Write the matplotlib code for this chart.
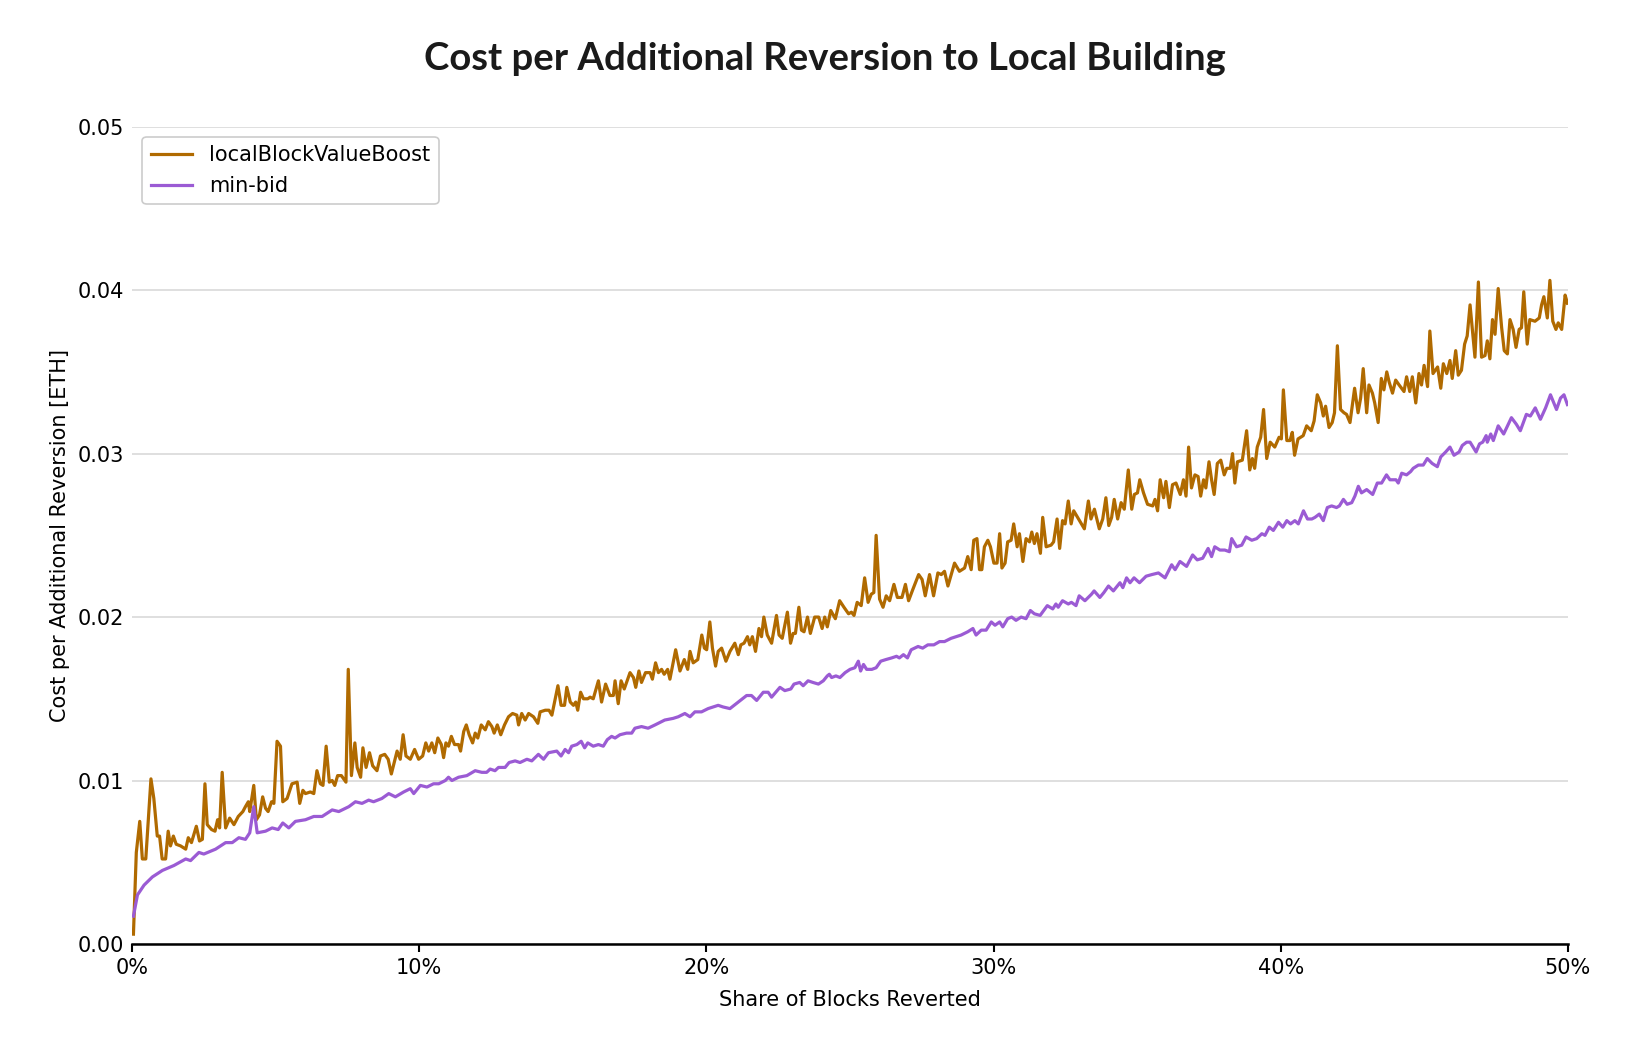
import numpy as np
import matplotlib
matplotlib.use("Agg")
import matplotlib.pyplot as plt
from matplotlib.ticker import FuncFormatter

# share of blocks reverted [%] and cost [milli-ETH]
boost_share = [
    0.05, 0.15, 0.27, 0.36, 0.48, 0.66, 0.76, 0.88, 0.96, 1.05, 1.17, 1.26, 1.34, 1.44, 1.54, 1.69,
    1.87, 1.96, 2.07, 2.24, 2.35, 2.45, 2.54, 2.62, 2.77, 2.89, 2.98, 3.05, 3.14, 3.26, 3.40, 3.55,
    3.70, 3.86, 3.95, 4.05, 4.10, 4.24, 4.33, 4.44, 4.55, 4.65, 4.74, 4.86, 4.94, 5.05, 5.17, 5.25,
    5.40, 5.57, 5.75, 5.84, 5.95, 6.04, 6.21, 6.33, 6.44, 6.56, 6.65, 6.76, 6.87, 6.97, 7.06, 7.16,
    7.29, 7.45, 7.53, 7.64, 7.76, 7.84, 7.96, 8.04, 8.15, 8.27, 8.38, 8.53, 8.65, 8.80, 8.92, 9.03,
    9.23, 9.34, 9.44, 9.54, 9.69, 9.84, 9.98, 10.12, 10.23, 10.33, 10.44, 10.54, 10.65, 10.77, 10.85,
    10.93, 11.02, 11.12, 11.23, 11.37, 11.44, 11.55, 11.64, 11.74, 11.86, 11.95, 12.04, 12.16, 12.30,
    12.41, 12.53, 12.61, 12.72, 12.84, 12.97, 13.11, 13.25, 13.40, 13.46, 13.57, 13.69, 13.81, 13.98,
    14.13, 14.21, 14.39, 14.52, 14.62, 14.83, 14.94, 15.06, 15.14, 15.26, 15.37, 15.45, 15.52, 15.62,
    15.72, 15.87, 15.95, 16.06, 16.24, 16.35, 16.49, 16.64, 16.76, 16.82, 16.93, 17.03, 17.14, 17.34,
    17.46, 17.54, 17.65, 17.74, 17.88, 18.04, 18.12, 18.23, 18.33, 18.44, 18.53, 18.65, 18.73, 18.93,
    19.08, 19.23, 19.35, 19.43, 19.54, 19.70, 19.84, 19.93, 20.01, 20.12, 20.21, 20.32, 20.41, 20.53,
    20.68, 20.82, 20.99, 21.11, 21.20, 21.31, 21.43, 21.51, 21.60, 21.71, 21.83, 21.92, 22.00, 22.12,
    22.27, 22.44, 22.53, 22.64, 22.82, 22.93, 23.02, 23.10, 23.22, 23.31, 23.40, 23.52, 23.62, 23.77,
    23.91, 24.03, 24.12, 24.21, 24.33, 24.49, 24.64, 24.79, 24.95, 25.05, 25.14, 25.25, 25.39, 25.51,
    25.63, 25.74, 25.83, 25.91, 26.03, 26.15, 26.26, 26.38, 26.53, 26.65, 26.81, 26.93, 27.04, 27.19,
    27.39, 27.51, 27.62, 27.77, 27.91, 28.06, 28.18, 28.29, 28.41, 28.64, 28.81, 28.99, 29.10, 29.22,
    29.31, 29.42, 29.51, 29.59, 29.68, 29.80, 29.89, 30.01, 30.12, 30.21, 30.29, 30.40, 30.49, 30.61,
    30.70, 30.82, 30.90, 31.02, 31.13, 31.25, 31.33, 31.42, 31.51, 31.63, 31.71, 31.83, 32.00, 32.09,
    32.21, 32.30, 32.40, 32.49, 32.60, 32.70, 32.79, 32.99, 33.16, 33.30, 33.39, 33.51, 33.68, 33.80,
    33.91, 34.01, 34.11, 34.20, 34.32, 34.44, 34.55, 34.69, 34.81, 34.90, 35.01, 35.09, 35.22, 35.36,
    35.54, 35.62, 35.71, 35.80, 35.92, 36.00, 36.12, 36.23, 36.35, 36.50, 36.61, 36.70, 36.79, 36.89,
    37.01, 37.12, 37.21, 37.31, 37.39, 37.50, 37.59, 37.68, 37.79, 37.91, 38.03, 38.12, 38.24, 38.32,
    38.40, 38.49, 38.66, 38.81, 38.92, 39.01, 39.09, 39.18, 39.30, 39.40, 39.51, 39.63, 39.79, 39.94,
    40.02, 40.09, 40.21, 40.32, 40.40, 40.48, 40.60, 40.78, 40.90, 41.06, 41.16, 41.27, 41.39, 41.48,
    41.56, 41.68, 41.79, 41.87, 41.97, 42.08, 42.20, 42.29, 42.41, 42.57, 42.69, 42.78, 42.87, 42.99,
    43.07, 43.19, 43.27, 43.39, 43.50, 43.59, 43.69, 43.77, 43.89, 44.00, 44.12, 44.29, 44.38, 44.49,
    44.58, 44.70, 44.81, 44.90, 44.99, 45.11, 45.19, 45.30, 45.46, 45.57, 45.66, 45.78, 45.89, 45.97,
    46.09, 46.18, 46.29, 46.40, 46.49, 46.59, 46.76, 46.88, 46.99, 47.11, 47.19, 47.28, 47.37, 47.46,
    47.57, 47.69, 47.78, 47.89, 47.98, 48.09, 48.19, 48.30, 48.38, 48.46, 48.58, 48.67, 48.85, 49.00,
    49.08, 49.16, 49.28, 49.37, 49.47, 49.58, 49.66, 49.78, 49.90, 49.98,
]
boost_cost = [
    0.6, 5.6, 7.5, 5.2, 5.2, 10.1, 8.9, 6.6, 6.6, 5.2, 5.2, 6.9, 6.0, 6.6, 6.1, 6.0,
    5.8, 6.5, 6.2, 7.2, 6.3, 6.4, 9.8, 7.3, 7.0, 6.9, 7.6, 7.1, 10.5, 7.1, 7.7, 7.3,
    7.8, 8.1, 8.4, 8.7, 8.1, 9.7, 7.6, 7.9, 9.0, 8.3, 8.1, 8.7, 8.6, 12.4, 12.1, 8.7,
    8.9, 9.8, 9.9, 8.6, 9.4, 9.2, 9.3, 9.2, 10.6, 9.8, 9.7, 12.1, 9.9, 10.0, 9.7, 10.3,
    10.3, 9.9, 16.8, 10.3, 12.3, 10.8, 10.2, 12.0, 10.8, 11.7, 10.9, 10.6, 11.5, 11.6, 11.3, 10.4,
    11.8, 11.3, 12.8, 11.5, 11.3, 11.9, 11.3, 11.5, 12.3, 11.8, 12.3, 11.7, 12.6, 12.2, 11.4,
    12.3, 12.1, 12.7, 12.2, 12.2, 11.8, 13.0, 13.4, 12.8, 12.3, 12.9, 12.6, 13.4, 13.1,
    13.6, 13.3, 12.9, 13.4, 12.8, 13.4, 13.9, 14.1, 14.0, 13.4, 14.1, 13.7, 14.1, 13.9,
    13.5, 14.2, 14.3, 14.3, 14.0, 15.8, 14.6, 14.6, 15.7, 14.8, 14.6, 14.8, 14.3, 15.4,
    15.0, 15.0, 15.1, 15.0, 16.1, 14.8, 15.9, 15.2, 15.2, 16.1, 14.7, 16.1, 15.6, 16.6,
    16.3, 15.7, 16.7, 16.0, 16.6, 16.6, 16.2, 17.2, 16.6, 16.8, 16.5, 16.8, 16.2, 18.0,
    16.7, 17.4, 16.8, 17.9, 17.2, 17.4, 18.9, 18.1, 18.0, 19.7, 18.1, 17.0, 17.9, 18.1,
    17.3, 17.9, 18.4, 17.7, 18.3, 18.4, 18.8, 18.3, 18.8, 17.9, 19.3, 18.8, 20.0, 18.9,
    18.4, 20.1, 18.9, 18.7, 20.3, 18.4, 19.0, 19.0, 20.6, 19.2, 19.1, 20.0, 19.0, 20.0,
    20.0, 19.3, 20.0, 19.4, 20.4, 19.9, 21.0, 20.6, 20.2, 20.3, 20.1, 20.9, 20.7, 22.4,
    20.9, 21.4, 21.5, 25.0, 21.1, 20.6, 21.3, 21.0, 22.0, 21.2, 21.2, 22.0, 21.0, 21.7,
    22.6, 22.3, 21.3, 22.6, 21.3, 22.7, 22.6, 22.8, 21.9, 23.3, 22.8, 23.0, 23.7, 22.9,
    24.7, 24.8, 22.9, 22.9, 24.3, 24.7, 24.3, 23.3, 23.3, 25.1, 23.0, 23.3, 24.6, 24.7,
    25.7, 24.3, 25.1, 23.4, 24.8, 24.6, 25.2, 24.5, 25.1, 23.9, 26.1, 24.3, 24.4, 24.6,
    26.0, 24.2, 25.9, 25.7, 27.1, 25.7, 26.5, 25.9, 25.4, 27.1, 26.0, 26.6, 25.4, 26.0,
    27.3, 25.6, 26.1, 27.2, 26.0, 27.0, 26.6, 29.0, 26.6, 27.5, 27.6, 28.4, 27.6, 26.9,
    26.8, 27.2, 26.5, 28.4, 27.3, 28.3, 26.7, 28.1, 28.2, 27.5, 28.4, 27.4, 30.4, 27.9,
    28.7, 28.6, 27.4, 28.4, 27.9, 29.5, 28.4, 27.5, 29.4, 29.6, 28.7, 29.1, 29.1, 30.0,
    28.2, 29.5, 29.6, 31.4, 29.0, 29.7, 29.1, 30.4, 31.0, 32.7, 29.7, 30.7, 30.4, 31.0,
    30.9, 33.9, 30.8, 30.8, 31.3, 29.9, 30.9, 31.1, 31.7, 31.4, 32.0, 33.6, 33.1, 32.3,
    32.9, 31.6, 31.9, 32.5, 36.6, 32.7, 32.5, 32.4, 31.9, 34.0, 32.5, 33.4, 35.2, 32.5,
    34.2, 33.7, 33.1, 31.9, 34.6, 33.9, 35.0, 34.4, 33.7, 34.5, 34.2, 33.8, 34.7, 33.8,
    34.7, 33.1, 34.9, 34.2, 35.4, 34.1, 37.5, 34.9, 35.3, 34.0, 35.5, 34.9, 35.7, 34.6,
    36.3, 34.8, 35.1, 36.7, 37.2, 39.1, 35.9, 40.5, 35.9, 36.0, 36.9, 35.8, 38.2, 37.3,
    40.1, 37.7, 36.3, 36.1, 38.2, 37.6, 36.5, 37.6, 37.7, 39.9, 36.7, 38.2, 38.1, 38.3,
    39.1, 39.6, 38.3, 40.6, 38.1, 37.6, 38.0, 37.6, 39.7, 39.2,
]

minbid_share = [
    0.05, 0.19, 0.42, 0.71, 1.06, 1.46, 1.87, 2.04, 2.33, 2.50, 2.91, 3.26, 3.49, 3.72, 3.95, 4.10,
    4.24, 4.36, 4.65, 4.88, 5.09, 5.25, 5.46, 5.69, 6.04, 6.33, 6.62, 6.97, 7.20, 7.55, 7.78, 8.01,
    8.24, 8.41, 8.70, 8.94, 9.17, 9.46, 9.69, 9.81, 10.04, 10.27, 10.50, 10.68, 10.91, 11.02, 11.14,
    11.37, 11.66, 11.95, 12.18, 12.35, 12.47, 12.64, 12.76, 12.99, 13.13, 13.34, 13.51, 13.75, 13.92,
    14.15, 14.33, 14.50, 14.79, 14.94, 15.08, 15.20, 15.31, 15.49, 15.64, 15.76, 15.87, 16.06, 16.24,
    16.41, 16.55, 16.70, 16.82, 16.99, 17.22, 17.40, 17.51, 17.74, 17.97, 18.21, 18.55, 18.84, 19.02,
    19.25, 19.43, 19.60, 19.83, 20.06, 20.41, 20.58, 20.82, 21.11, 21.40, 21.57, 21.75, 21.98, 22.15,
    22.27, 22.56, 22.73, 22.94, 23.05, 23.25, 23.37, 23.54, 23.71, 23.90, 24.07, 24.21, 24.28, 24.36,
    24.51, 24.65, 24.83, 25.00, 25.17, 25.29, 25.37, 25.47, 25.58, 25.76, 25.91, 26.07, 26.25, 26.45,
    26.62, 26.72, 26.86, 27.00, 27.13, 27.37, 27.53, 27.71, 27.92, 28.12, 28.29, 28.52, 28.87, 29.10,
    29.28, 29.39, 29.57, 29.74, 29.92, 30.05, 30.21, 30.32, 30.49, 30.63, 30.78, 30.96, 31.13, 31.28,
    31.42, 31.62, 31.87, 32.06, 32.17, 32.25, 32.40, 32.60, 32.71, 32.87, 32.98, 33.18, 33.41, 33.50,
    33.70, 33.84, 34.00, 34.17, 34.40, 34.50, 34.63, 34.75, 34.89, 35.08, 35.31, 35.51, 35.74, 35.97,
    36.20, 36.32, 36.49, 36.72, 36.93, 37.09, 37.28, 37.47, 37.59, 37.70, 37.88, 38.05, 38.21, 38.29,
    38.46, 38.64, 38.79, 38.99, 39.16, 39.34, 39.45, 39.60, 39.74, 39.92, 40.07, 40.21, 40.34, 40.49,
    40.61, 40.79, 40.93, 41.08, 41.19, 41.34, 41.48, 41.62, 41.77, 41.94, 42.04, 42.18, 42.31, 42.47,
    42.58, 42.70, 42.81, 42.99, 43.20, 43.36, 43.51, 43.68, 43.80, 44.01, 44.09, 44.21, 44.38, 44.52,
    44.61, 44.79, 44.96, 45.10, 45.27, 45.45, 45.57, 45.74, 45.89, 46.03, 46.21, 46.32, 46.47, 46.59,
    46.80, 46.92, 47.03, 47.15, 47.19, 47.31, 47.40, 47.57, 47.76, 48.03, 48.20, 48.34, 48.55, 48.69,
    48.86, 49.04, 49.22, 49.39, 49.60, 49.74, 49.86, 49.98,
]
minbid_cost = [
    1.7, 3.0, 3.6, 4.1, 4.5, 4.8, 5.2, 5.1, 5.6, 5.5, 5.8, 6.2, 6.2, 6.5, 6.4, 6.8,
    8.4, 6.8, 6.9, 7.1, 7.0, 7.4, 7.1, 7.5, 7.6, 7.8, 7.8, 8.2, 8.1, 8.4, 8.7, 8.6,
    8.8, 8.7, 8.9, 9.2, 9.0, 9.3, 9.5, 9.2, 9.7, 9.6, 9.8, 9.8, 10.0, 10.2, 10.0,
    10.2, 10.3, 10.6, 10.5, 10.5, 10.7, 10.6, 10.8, 10.8, 11.1, 11.2, 11.1, 11.3, 11.2,
    11.6, 11.3, 11.7, 11.8, 11.5, 11.9, 11.7, 12.1, 12.2, 12.4, 12.0, 12.3, 12.1, 12.2,
    12.1, 12.5, 12.7, 12.6, 12.8, 12.9, 12.9, 13.2, 13.3, 13.2, 13.4, 13.7, 13.8, 13.9,
    14.1, 13.9, 14.2, 14.2, 14.4, 14.6, 14.5, 14.4, 14.8, 15.2, 15.2, 14.9, 15.4, 15.4,
    15.1, 15.7, 15.5, 15.6, 15.9, 16.0, 15.8, 16.1, 16.0, 15.9, 16.1, 16.4, 16.5, 16.3,
    16.4, 16.3, 16.6, 16.8, 16.9, 17.3, 16.7, 17.1, 16.8, 16.8, 16.9, 17.3, 17.4, 17.5,
    17.6, 17.5, 17.7, 17.5, 18.0, 18.2, 18.1, 18.3, 18.3, 18.5, 18.5, 18.7, 18.9, 19.1,
    19.3, 18.9, 19.2, 19.2, 19.7, 19.5, 19.7, 19.4, 19.9, 20.0, 19.8, 20.0, 19.9, 20.4,
    20.2, 20.1, 20.7, 20.5, 20.8, 20.6, 21.0, 20.8, 20.9, 20.7, 21.3, 21.0, 21.4, 21.6,
    21.2, 21.5, 21.9, 21.6, 22.1, 21.8, 22.4, 22.1, 22.4, 22.1, 22.5, 22.6, 22.7, 22.4,
    23.2, 22.9, 23.4, 23.1, 23.8, 23.5, 23.6, 24.2, 23.7, 24.3, 24.1, 24.1, 24.0, 24.8,
    24.3, 24.4, 24.9, 24.7, 24.8, 25.1, 25.0, 25.5, 25.3, 25.8, 25.5, 25.9, 25.7, 25.9,
    25.7, 26.5, 26.0, 26.0, 26.1, 26.3, 25.9, 26.7, 26.8, 26.7, 26.8, 27.2, 26.9, 27.0,
    27.4, 28.0, 27.6, 27.8, 27.5, 28.2, 28.2, 28.7, 28.4, 28.4, 28.2, 28.8, 28.7, 28.9,
    29.1, 29.3, 29.3, 29.7, 29.4, 29.2, 29.8, 30.1, 30.4, 29.9, 30.1, 30.5, 30.7, 30.7,
    30.1, 30.6, 30.7, 31.1, 30.7, 31.2, 30.8, 31.7, 31.2, 32.2, 31.8, 31.4, 32.4, 32.3,
    32.8, 32.1, 32.8, 33.6, 32.7, 33.4, 33.6, 33.0,
]

series_names = ["localBlockValueBoost", "min-bid"]
series_colors = ["#b06a00", "#9b5bd4"]

fig = plt.figure(figsize=(16.5, 10.5), dpi=100)
ax = fig.add_axes([0.08, 0.101, 0.8703, 0.7783])

ax.plot(boost_share, np.array(boost_cost) / 1000, color=series_colors[0], lw=2.3,
        label=series_names[0])
ax.plot(minbid_share, np.array(minbid_cost) / 1000, color=series_colors[1], lw=2.3,
        label=series_names[1])

ax.set_xlim(0, 50)
ax.set_ylim(0, 0.05)
ax.set_xticks(np.arange(0, 51, 10))
ax.set_yticks(np.arange(0, 0.051, 0.01))
ax.xaxis.set_major_formatter(FuncFormatter(lambda v, p: f"{v:.0f}%"))
ax.yaxis.set_major_formatter(FuncFormatter(lambda v, p: f"{v:.2f}"))
ax.tick_params(axis="both", labelsize=15)
ax.tick_params(axis="y", length=0, pad=6)
ax.tick_params(axis="x", length=6, width=1.5, color="black", pad=4)

ax.grid(axis="y", color="#d9d9d9", lw=1.2)
ax.set_axisbelow(True)
for s in ["top", "right", "left"]:
    ax.spines[s].set_visible(False)
ax.spines["bottom"].set_linewidth(1.8)
ax.spines["bottom"].set_color("black")

ax.set_xlabel("Share of Blocks Reverted", fontsize=15, labelpad=9)
ax.set_ylabel("Cost per Additional Reversion [ETH]", fontsize=15, labelpad=5)

leg = ax.legend(loc="upper left", fontsize=15, frameon=True, fancybox=True,
                edgecolor="#cccccc", framealpha=1.0)
leg.get_frame().set_linewidth(1.2)

fig.suptitle("Cost per Additional Reversion to Local Building", fontsize=27.5,
             fontweight="bold", family=["Lato", "DejaVu Sans"], color="#1a1a1a",
             y=0.944, va="center")

fig.savefig("out.png", dpi=100, facecolor="white")
